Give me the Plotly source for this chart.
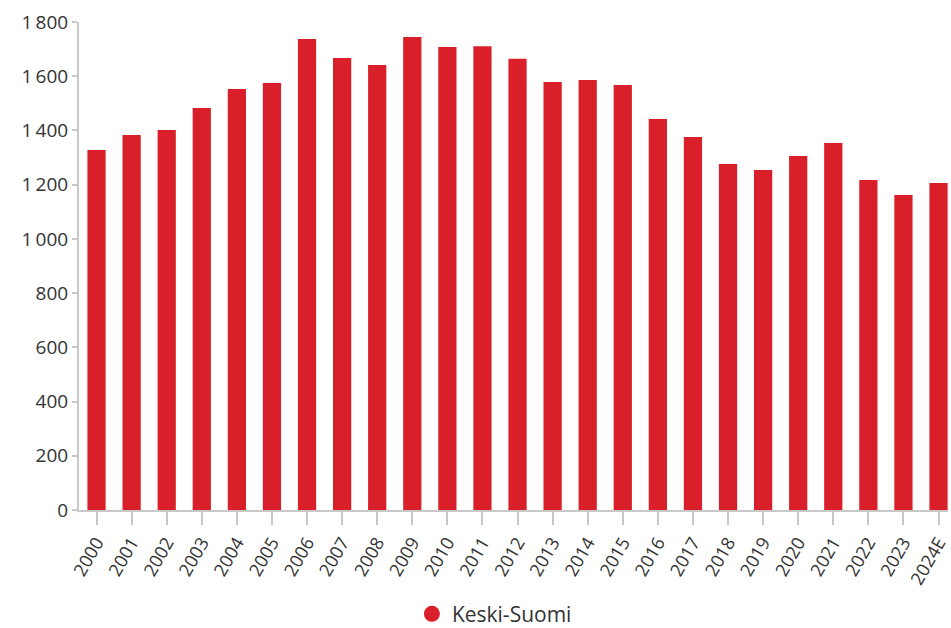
import plotly.graph_objects as go

years = ["2000", "2001", "2002", "2003", "2004", "2005", "2006", "2007", "2008",
         "2009", "2010", "2011", "2012", "2013", "2014", "2015", "2016", "2017",
         "2018", "2019", "2020", "2021", "2022", "2023", "2024E"]
values = [1328, 1383, 1402, 1483, 1553, 1575, 1737, 1667, 1641, 1745, 1708, 1711,
          1664, 1579, 1586, 1568, 1442, 1376, 1276, 1254, 1306, 1354, 1217, 1162, 1206]
series_name = "Keski-Suomi"
y_tickvals = [0, 200, 400, 600, 800, 1000, 1200, 1400, 1600, 1800]
y_ticktext = ["0", "200", "400", "600", "800", "1\u2009000", "1\u2009200", "1\u2009400",
              "1\u2009600", "1\u2009800"]

RED = "#D9202A"
FONT = "Open Sans"

fig = go.Figure()
fig.add_trace(go.Bar(
    x=years, y=values, name=series_name, showlegend=False,
    marker=dict(color=RED, line=dict(width=0)), width=0.52,
))
fig.add_trace(go.Scatter(
    x=[None], y=[None], mode="markers", name=series_name,
    marker=dict(color=RED, size=16, symbol="circle"),
))

fig.update_layout(
    width=951, height=628,
    margin=dict(l=79, r=0, t=22, b=118),
    paper_bgcolor="white", plot_bgcolor="white",
    font=dict(family=FONT, size=18, color="#333333"),
    legend=dict(orientation="h", x=0.478, xanchor="center", y=0.022, yref="container",
                yanchor="middle", font=dict(size=21, color="#333333"),
                itemwidth=30),
    xaxis=dict(
        type="category", range=[-0.5, 24.27], showgrid=False,
        showline=True, linecolor="#C8C8C8", linewidth=2,
        ticks="outside", ticklen=13, tickcolor="#C8C8C8", tickwidth=2,
        tickangle=-60, tickfont=dict(size=18, color="#333333"),
    ),
    yaxis=dict(
        range=[0, 1800], showgrid=False, zeroline=False,
        showline=True, linecolor="#C8C8C8", linewidth=2,
        ticks="outside", ticklen=5, tickcolor="#C8C8C8", tickwidth=2,
        tickvals=y_tickvals, ticktext=y_ticktext,
        tickfont=dict(size=19, color="#333333"),
    ),
)

fig.write_html(
    "out.html",
    config={"displayModeBar": False},
    post_script="document.body.style.margin='0';document.body.style.overflow='hidden';",
)
